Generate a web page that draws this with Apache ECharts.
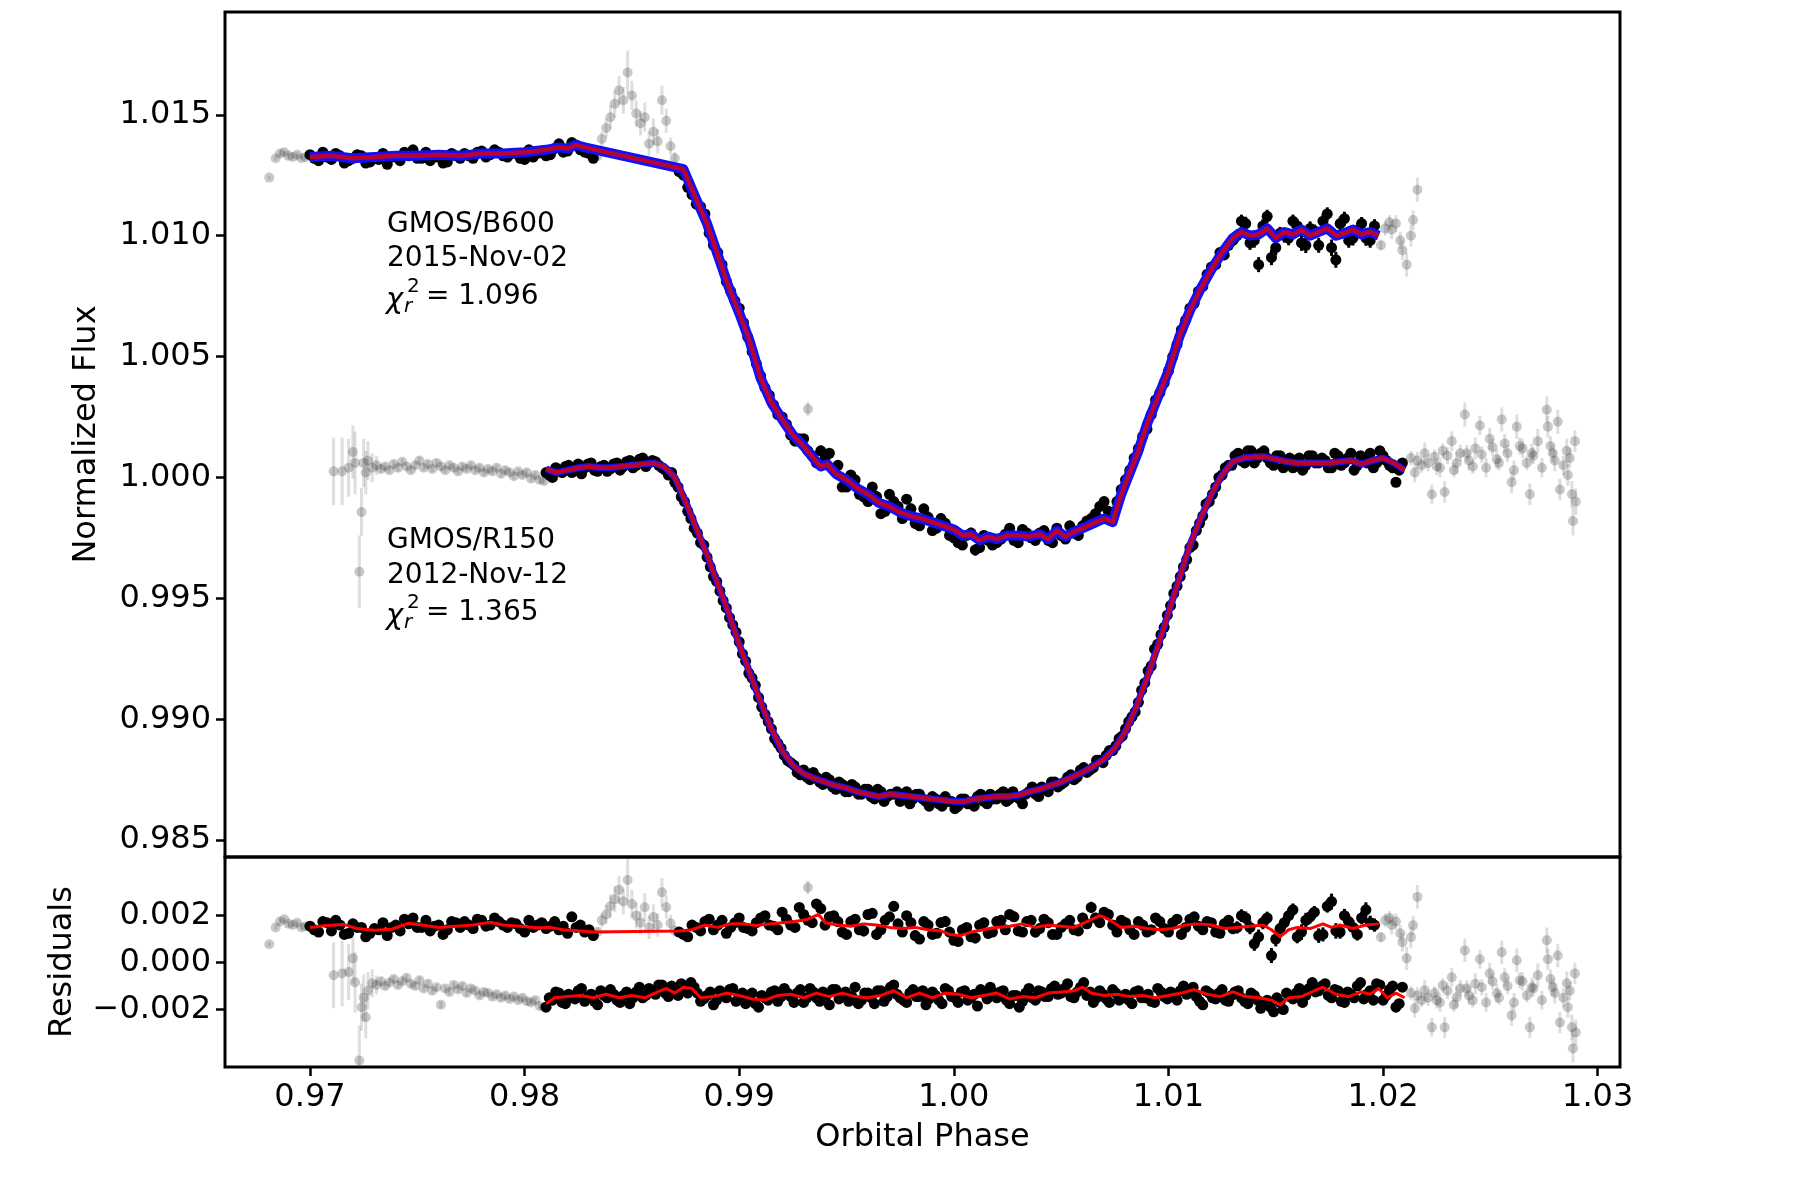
<!DOCTYPE html>
<html><head><meta charset="utf-8">
<script src="https://cdn.jsdelivr.net/npm/echarts@6/dist/echarts.min.js"></script>
<style>html,body{margin:0;padding:0;background:#fff}#c{width:1800px;height:1200px}</style>
</head><body><div id="c"></div><script>
// ---------------- tick values ----------------
const xTicks = [0.97, 0.98, 0.99, 1.00, 1.01, 1.02, 1.03];
const fluxTicks = [0.985, 0.990, 0.995, 1.000, 1.005, 1.010, 1.015];
const residTicks = [-0.002, 0.000, 0.002];

// ---------------- GMOS/B600 (2015-Nov-02) fitted points, block A ----------------
const b600Phase = [
0.9700,0.9704,0.9708,0.9712,0.9716,0.9720,0.9724,0.9728,0.9732,0.9736,
0.9740,0.9744,0.9748,0.9752,0.9756,0.9760,0.9764,0.9768,0.9772,0.9776,
0.9780,0.9784,0.9788,0.9792,0.9796,0.9800,0.9804,0.9808,0.9812,0.9816,
0.9820,0.9824,0.9828,0.9832,
0.9872,0.9876,0.9880,0.9884,0.9888,0.9892,0.9896,0.9900,0.9904,0.9908,
0.9912,0.9916,0.9920,0.9924,0.9928,0.9932,0.9936,0.9940,0.9944,0.9948,
0.9952,0.9956,0.9960,0.9964,0.9968,0.9972,0.9976,0.9980,0.9984,0.9988,
0.9992,0.9996,1.0000,1.0004,1.0008,1.0012,1.0016,1.0020,1.0024,1.0028,
1.0032,1.0036,1.0040,1.0044,1.0048,1.0052,1.0056,1.0060,1.0064,1.0068,
1.0072,1.0076,1.0080,1.0084,1.0088,1.0092,1.0096,1.0100,1.0104,1.0108,
1.0112,1.0116,1.0120,1.0124,1.0128,1.0132,1.0136,1.0140,1.0144,1.0148,
1.0152,1.0156,1.0160,1.0164,1.0168,1.0172,1.0176,1.0180,1.0184,1.0188,
1.0192,1.0196];
const b600Flux = [
1.01335,1.01310,1.01325,1.01340,1.01300,1.01320,1.01330,1.01305,1.01315,1.01295,
1.01325,1.01345,1.01355,1.01320,1.01310,1.01325,1.01305,1.01330,1.01340,1.01320,
1.01350,1.01335,1.01345,1.01325,1.01340,1.01315,1.01325,1.01345,1.01335,1.01380,
1.01350,1.01375,1.01345,1.01320,
1.01265,1.01200,1.01130,1.01090,1.00960,1.00880,1.00770,1.00700,1.00580,1.00470,
1.00370,1.00300,1.00250,1.00175,1.00160,1.00110,1.00060,1.00080,1.00030,0.99960,
1.00010,0.99930,0.99900,0.99920,0.99860,0.99900,0.99830,0.99870,0.99800,0.99835,
0.99790,0.99810,0.99750,0.99720,0.99770,0.99710,0.99740,0.99730,0.99765,0.99740,
0.99785,0.99750,0.99770,0.99740,0.99790,0.99745,0.99770,0.99800,0.99830,0.99880,
0.99860,0.99900,0.99990,1.00080,1.00170,1.00260,1.00350,1.00440,1.00550,1.00650,
1.00720,1.00790,1.00870,1.00930,1.00960,1.01000,1.01050,1.00980,1.01040,1.00910,
1.01010,1.00990,1.01040,1.00960,1.01020,1.01060,1.00950,1.01050,1.00980,1.01020,
1.00990,1.01040];
const b600Err = [
0.00012,0.00013,0.00012,0.00012,0.00013,0.00012,0.00012,0.00013,0.00012,0.00012,
0.00013,0.00012,0.00012,0.00013,0.00012,0.00012,0.00013,0.00012,0.00012,0.00013,
0.00012,0.00012,0.00013,0.00012,0.00012,0.00013,0.00012,0.00014,0.00013,0.00015,
0.00014,0.00015,0.00014,0.00015,
0.00012,0.00012,0.00013,0.00012,0.00013,0.00012,0.00013,0.00012,0.00013,0.00012,
0.00013,0.00012,0.00014,0.00013,0.00014,0.00015,0.00020,0.00022,0.00020,0.00018,
0.00020,0.00022,0.00020,0.00024,0.00020,0.00022,0.00018,0.00022,0.00020,0.00024,
0.00020,0.00022,0.00020,0.00018,0.00022,0.00020,0.00024,0.00020,0.00018,0.00022,
0.00020,0.00018,0.00020,0.00022,0.00020,0.00018,0.00020,0.00022,0.00024,0.00022,
0.00020,0.00020,0.00018,0.00016,0.00018,0.00016,0.00018,0.00016,0.00018,0.00016,
0.00018,0.00020,0.00018,0.00020,0.00022,0.00026,0.00028,0.00030,0.00028,0.00032,
0.00026,0.00030,0.00028,0.00032,0.00026,0.00030,0.00034,0.00028,0.00030,0.00026,
0.00032,0.00028];
const b600Resid = [
0.00155,0.00130,0.00170,0.00180,0.00120,0.00165,0.00150,0.00125,0.00140,0.00115,
0.00160,0.00185,0.00190,0.00150,0.00135,0.00160,0.00140,0.00170,0.00175,0.00145,
0.00180,0.00160,0.00175,0.00150,0.00165,0.00130,0.00150,0.00170,0.00155,0.00140,
0.00125,0.00150,0.00130,0.00115,
0.00130,0.00110,0.00150,0.00175,0.00140,0.00180,0.00150,0.00190,0.00145,0.00170,
0.00200,0.00155,0.00215,0.00160,0.00235,0.00180,0.00250,0.00160,0.00200,0.00130,
0.00175,0.00140,0.00205,0.00120,0.00180,0.00240,0.00130,0.00170,0.00100,0.00160,
0.00125,0.00175,0.00095,0.00140,0.00110,0.00160,0.00125,0.00175,0.00140,0.00195,
0.00130,0.00180,0.00145,0.00170,0.00120,0.00165,0.00140,0.00190,0.00235,0.00170,
0.00205,0.00130,0.00170,0.00120,0.00160,0.00140,0.00175,0.00130,0.00185,0.00150,
0.00195,0.00140,0.00170,0.00125,0.00180,0.00150,0.00190,0.00080,0.00170,0.00030,
0.00145,0.00200,0.00110,0.00180,0.00215,0.00120,0.00260,0.00130,0.00175,0.00120,
0.00225,0.00160];

// ---------------- GMOS/B600 fitted points, block B (interleaved exposures) ----------------
const b600PhaseB = [
0.9702,0.9706,0.9710,0.9714,0.9718,0.9722,0.9726,0.9730,0.9734,0.9738,
0.9742,0.9746,0.9750,0.9754,0.9758,0.9762,0.9766,0.9770,0.9774,0.9778,
0.9782,0.9786,0.9790,0.9794,0.9798,0.9802,0.9806,0.9810,0.9814,0.9818,
0.9822,0.9826,0.9830,
0.9874,0.9878,0.9882,0.9886,0.9890,0.9894,0.9898,0.9902,0.9906,0.9910,
0.9914,0.9918,0.9922,0.9926,0.9930,0.9934,0.9938,0.9942,0.9946,0.9950,
0.9954,0.9958,0.9962,0.9966,0.9970,0.9974,0.9978,0.9982,0.9986,0.9990,
0.9994,0.9998,1.0002,1.0006,1.0010,1.0014,1.0018,1.0022,1.0026,1.0030,
1.0034,1.0038,1.0042,1.0046,1.0050,1.0054,1.0058,1.0062,1.0066,1.0070,
1.0074,1.0078,1.0082,1.0086,1.0090,1.0094,1.0098,1.0102,1.0106,1.0110,
1.0114,1.0118,1.0122,1.0126,1.0130,1.0134,1.0138,1.0142,1.0146,1.0150,
1.0154,1.0158,1.0162,1.0166,1.0170,1.0174,1.0178,1.0182,1.0186,1.0190,
1.0194];
const b600FluxB = [
1.01320,1.01345,1.01315,1.01330,1.01310,1.01335,1.01300,1.01320,1.01340,1.01325,
1.01310,1.01330,1.01320,1.01345,1.01325,1.01300,1.01340,1.01320,1.01330,1.01345,
1.01325,1.01355,1.01330,1.01340,1.01320,1.01355,1.01340,1.01330,1.01360,1.01345,
1.01385,1.01355,1.01340,
1.01250,1.01170,1.01120,1.01010,1.00930,1.00810,1.00730,1.00640,1.00520,1.00420,
1.00340,1.00260,1.00220,1.00150,1.00160,1.00090,1.00110,1.00100,1.00050,0.99960,
0.99990,0.99920,0.99960,0.99850,0.99930,0.99880,0.99910,0.99810,0.99870,0.99780,
0.99830,0.99760,0.99730,0.99760,0.99700,0.99760,0.99720,0.99745,0.99790,0.99730,
0.99770,0.99740,0.99780,0.99730,0.99760,0.99800,0.99760,0.99820,0.99850,0.99900,
0.99840,0.99950,1.00030,1.00120,1.00200,1.00320,1.00390,1.00500,1.00610,1.00700,
1.00770,1.00840,1.00880,1.00920,1.00980,1.01060,1.00970,1.00880,1.01080,1.00950,
1.01000,1.01060,1.00970,1.01030,1.00960,1.01090,1.00900,1.01070,1.00990,1.01050,
1.00980];
const b600ErrB = [
0.00013,0.00012,0.00012,0.00013,0.00012,0.00012,0.00013,0.00012,0.00012,0.00013,
0.00012,0.00012,0.00013,0.00012,0.00012,0.00013,0.00012,0.00012,0.00013,0.00012,
0.00012,0.00013,0.00012,0.00012,0.00013,0.00012,0.00013,0.00014,0.00013,0.00015,
0.00014,0.00015,0.00014,
0.00012,0.00013,0.00012,0.00013,0.00012,0.00013,0.00012,0.00013,0.00012,0.00013,
0.00012,0.00013,0.00014,0.00013,0.00015,0.00016,0.00021,0.00020,0.00022,0.00019,
0.00021,0.00023,0.00020,0.00022,0.00019,0.00021,0.00020,0.00023,0.00021,0.00019,
0.00022,0.00020,0.00021,0.00019,0.00023,0.00021,0.00020,0.00022,0.00019,0.00021,
0.00020,0.00022,0.00019,0.00021,0.00023,0.00020,0.00021,0.00019,0.00022,0.00020,
0.00021,0.00019,0.00017,0.00018,0.00016,0.00017,0.00018,0.00016,0.00017,0.00018,
0.00017,0.00019,0.00018,0.00021,0.00024,0.00027,0.00029,0.00031,0.00027,0.00031,
0.00029,0.00027,0.00033,0.00029,0.00031,0.00027,0.00033,0.00029,0.00031,0.00027,
0.00030];
const b600ResidB = [
0.00140,0.00175,0.00135,0.00160,0.00125,0.00150,0.00110,0.00145,0.00170,0.00150,
0.00135,0.00165,0.00150,0.00180,0.00155,0.00120,0.00175,0.00150,0.00160,0.00185,
0.00155,0.00190,0.00160,0.00170,0.00145,0.00180,0.00160,0.00145,0.00175,0.00155,
0.00195,0.00160,0.00140,
0.00120,0.00160,0.00135,0.00185,0.00160,0.00125,0.00170,0.00150,0.00135,0.00190,
0.00160,0.00140,0.00185,0.00150,0.00205,0.00170,0.00230,0.00195,0.00175,0.00120,
0.00185,0.00135,0.00210,0.00140,0.00195,0.00165,0.00200,0.00115,0.00175,0.00120,
0.00170,0.00130,0.00090,0.00150,0.00105,0.00170,0.00130,0.00180,0.00205,0.00135,
0.00175,0.00130,0.00185,0.00120,0.00150,0.00180,0.00135,0.00165,0.00190,0.00215,
0.00160,0.00180,0.00140,0.00175,0.00130,0.00190,0.00145,0.00170,0.00120,0.00185,
0.00155,0.00175,0.00130,0.00165,0.00145,0.00200,0.00150,0.00110,0.00190,0.00100,
0.00170,0.00225,0.00130,0.00195,0.00115,0.00240,0.00135,0.00200,0.00150,0.00190,
0.00170];

// ---------------- GMOS/B600 excluded (grey) points ----------------
const b600GreyPhase = [
0.9681,0.9684,0.9686,0.9688,0.9690,0.9692,0.9694,0.9696,0.9698,
0.9834,0.9836,0.9838,0.9840,0.9842,0.9844,0.9846,0.9848,0.9850,0.9852,
0.9854,0.9856,0.9858,0.9860,0.9862,0.9864,0.9866,0.9868,0.9870,
0.9932,
1.0199,1.0201,1.0203,1.0204,1.0206,1.0208,1.0209,1.0211,1.0213,1.0214,1.0216];
const b600GreyFlux = [
1.01240,1.01320,1.01340,1.01345,1.01330,1.01325,1.01335,1.01320,1.01325,
1.01330,1.01400,1.01445,1.01490,1.01545,1.01600,1.01560,1.01675,1.01580,1.01505,
1.01465,1.01490,1.01380,1.01430,1.01390,1.01560,1.01475,1.01370,1.01320,
1.00283,
1.00960,1.01030,1.01055,1.01025,1.01050,1.00980,1.00940,1.00880,1.01000,1.01065,1.01190];
const b600GreyErr = [
0.00008,0.00010,0.00012,0.00010,0.00012,0.00010,0.00012,0.00010,0.00008,
0.00020,0.00030,0.00040,0.00050,0.00055,0.00060,0.00055,0.00090,0.00060,0.00055,
0.00050,0.00060,0.00050,0.00055,0.00050,0.00060,0.00050,0.00035,0.00025,
0.00030,
0.00020,0.00030,0.00030,0.00040,0.00035,0.00035,0.00040,0.00050,0.00045,0.00040,0.00050];
const b600GreyResid = [
0.00078,0.00150,0.00175,0.00185,0.00165,0.00160,0.00170,0.00150,0.00155,
0.00130,0.00180,0.00205,0.00240,0.00270,0.00310,0.00260,0.00352,0.00250,0.00200,
0.00170,0.00236,0.00150,0.00194,0.00160,0.00300,0.00236,0.00168,0.00135,
0.00320,
0.00108,0.00180,0.00190,0.00160,0.00175,0.00125,0.00087,0.00018,0.00108,0.00159,0.00280];

// ---------------- GMOS/B600 model and residual trend ----------------
const b600Model = [
[0.9700,1.01325],[0.9710,1.01330],[0.9720,1.01320],[0.9730,1.01325],[0.9740,1.01330],
[0.9750,1.01330],[0.9760,1.01335],[0.9770,1.01330],[0.9780,1.01340],[0.9790,1.01340],
[0.9800,1.01345],[0.9810,1.01355],[0.9816,1.01365],[0.9820,1.01360],[0.9824,1.01375],
[0.9828,1.01365],[0.9874,1.01275],[0.9880,1.01150],[0.9885,1.01050],[0.9890,1.00920],
[0.9895,1.00790],[0.9900,1.00680],[0.9905,1.00560],[0.9910,1.00410],[0.9915,1.00310],
[0.9920,1.00240],[0.9925,1.00175],[0.9930,1.00130],[0.9935,1.00075],[0.9938,1.00045],
[0.9941,1.00055],[0.9945,1.00015],[0.9950,0.99990],[0.9955,0.99955],[0.9960,0.99930],
[0.9965,0.99895],[0.9970,0.99880],[0.9975,0.99855],[0.9980,0.99840],[0.9985,0.99830],
[0.9990,0.99815],[0.9995,0.99800],[1.0000,0.99785],[1.0004,0.99760],[1.0008,0.99765],
[1.0012,0.99740],[1.0016,0.99755],[1.0020,0.99745],[1.0025,0.99760],[1.0030,0.99760],
[1.0035,0.99755],[1.0040,0.99765],[1.0044,0.99745],[1.0048,0.99780],[1.0052,0.99755],
[1.0056,0.99775],[1.0060,0.99790],[1.0065,0.99810],[1.0070,0.99830],[1.0074,0.99815],
[1.0078,0.99930],[1.0082,1.00020],[1.0086,1.00110],[1.0090,1.00220],[1.0095,1.00330],
[1.0100,1.00440],[1.0105,1.00580],[1.0110,1.00690],[1.0115,1.00780],[1.0120,1.00860],
[1.0125,1.00930],[1.0130,1.00990],[1.0134,1.01015],[1.0138,1.01000],[1.0142,1.01005],
[1.0146,1.01030],[1.0150,1.00990],[1.0154,1.01015],[1.0158,1.01005],[1.0162,1.01025],
[1.0166,1.01000],[1.0170,1.01015],[1.0174,1.01030],[1.0178,1.01000],[1.0182,1.01010],
[1.0186,1.01025],[1.0190,1.01005],[1.0194,1.01015],[1.0198,1.01000]];
const b600ResidTrend = [
[0.9700,0.00150],[0.9708,0.00158],[0.9716,0.00162],[0.9722,0.00145],[0.9730,0.00138],
[0.9738,0.00142],[0.9746,0.00168],[0.9752,0.00160],[0.9760,0.00150],[0.9768,0.00155],
[0.9776,0.00160],[0.9784,0.00172],[0.9790,0.00160],[0.9798,0.00155],[0.9806,0.00148],
[0.9812,0.00150],[0.9818,0.00140],[0.9826,0.00135],[0.9832,0.00130],[0.9872,0.00135],
[0.9878,0.00140],[0.9884,0.00160],[0.9890,0.00150],[0.9896,0.00165],[0.9902,0.00165],
[0.9908,0.00158],[0.9914,0.00165],[0.9920,0.00170],[0.9926,0.00175],[0.9932,0.00185],
[0.9937,0.00205],[0.9940,0.00170],[0.9946,0.00160],[0.9952,0.00155],[0.9958,0.00165],
[0.9964,0.00160],[0.9970,0.00150],[0.9976,0.00145],[0.9982,0.00150],[0.9988,0.00140],
[0.9994,0.00135],[0.9998,0.00120],[1.0003,0.00115],[1.0008,0.00130],[1.0014,0.00140],
[1.0020,0.00150],[1.0026,0.00155],[1.0032,0.00165],[1.0038,0.00150],[1.0044,0.00160],
[1.0050,0.00155],[1.0056,0.00150],[1.0062,0.00175],[1.0068,0.00200],[1.0072,0.00185],
[1.0078,0.00150],[1.0084,0.00155],[1.0090,0.00145],[1.0096,0.00140],[1.0102,0.00145],
[1.0108,0.00160],[1.0114,0.00165],[1.0120,0.00160],[1.0126,0.00145],[1.0132,0.00150],
[1.0138,0.00155],[1.0144,0.00160],[1.0148,0.00140],[1.0152,0.00110],[1.0156,0.00140],
[1.0160,0.00150],[1.0166,0.00145],[1.0172,0.00165],[1.0176,0.00150],[1.0180,0.00160],
[1.0186,0.00145],[1.0192,0.00160],[1.0198,0.00165]];

// ---------------- GMOS/R150 (2012-Nov-12) fitted points, block A ----------------
const r150Phase = [
0.9810,0.9813,0.9816,0.9819,0.9822,0.9825,0.9828,0.9831,0.9834,0.9837,
0.9840,0.9843,0.9846,0.9849,0.9852,0.9855,0.9858,0.9861,0.9864,0.9867,
0.9870,0.9873,0.9876,0.9879,0.9882,0.9885,0.9888,0.9891,0.9894,0.9897,
0.9900,0.9903,0.9906,0.9909,0.9912,0.9915,0.9918,0.9921,0.9924,0.9927,
0.9930,0.9933,0.9936,0.9939,0.9942,0.9945,0.9948,0.9951,0.9954,0.9957,
0.9960,0.9963,0.9966,0.9969,0.9972,0.9975,0.9978,0.9981,0.9984,0.9987,
0.9990,0.9993,0.9996,0.9999,1.0002,1.0005,1.0008,1.0011,1.0014,1.0017,
1.0020,1.0023,1.0026,1.0029,1.0032,1.0035,1.0038,1.0041,1.0044,1.0047,
1.0050,1.0053,1.0056,1.0059,1.0062,1.0065,1.0068,1.0071,1.0074,1.0077,
1.0080,1.0083,1.0086,1.0089,1.0092,1.0095,1.0098,1.0101,1.0104,1.0107,
1.0110,1.0113,1.0116,1.0119,1.0122,1.0125,1.0128,1.0131,1.0134,1.0137,
1.0140,1.0143,1.0146,1.0149,1.0152,1.0155,1.0158,1.0161,1.0164,1.0167,
1.0170,1.0173,1.0176,1.0179,1.0182,1.0185,1.0188,1.0191,1.0194,1.0197,
1.0200,1.0203,1.0206,1.0209];
const r150Flux = [
1.00020,1.00000,1.00030,1.00045,1.00020,1.00055,1.00040,1.00060,1.00025,1.00050,
1.00035,1.00060,1.00045,1.00070,1.00050,1.00080,1.00060,1.00065,1.00040,1.00010,
0.99980,0.99920,0.99860,0.99790,0.99730,0.99670,0.99590,0.99530,0.99460,0.99390,
0.99320,0.99240,0.99170,0.99090,0.99020,0.98960,0.98900,0.98850,0.98820,0.98780,
0.98790,0.98750,0.98760,0.98730,0.98750,0.98710,0.98730,0.98700,0.98720,0.98690,
0.98710,0.98670,0.98700,0.98680,0.98690,0.98660,0.98700,0.98670,0.98690,0.98660,
0.98680,0.98650,0.98680,0.98660,0.98640,0.98670,0.98650,0.98680,0.98660,0.98690,
0.98670,0.98700,0.98670,0.98680,0.98650,0.98700,0.98690,0.98720,0.98700,0.98740,
0.98730,0.98760,0.98750,0.98790,0.98780,0.98800,0.98830,0.98850,0.98870,0.98920,
0.98960,0.99010,0.99070,0.99150,0.99220,0.99310,0.99380,0.99470,0.99550,0.99630,
0.99710,0.99780,0.99840,0.99900,0.99960,1.00010,1.00050,1.00090,1.00070,1.00110,
1.00060,1.00100,1.00080,1.00050,1.00090,1.00060,1.00040,1.00080,1.00050,1.00090,
1.00060,1.00070,1.00040,1.00090,1.00060,1.00100,1.00050,1.00080,1.00100,1.00060,
1.00090,1.00050,0.99980,1.00060];
const r150Err = [
0.00014,0.00013,0.00014,0.00015,0.00013,0.00014,0.00013,0.00015,0.00014,0.00013,
0.00014,0.00013,0.00015,0.00014,0.00013,0.00014,0.00015,0.00013,0.00014,0.00013,
0.00013,0.00014,0.00013,0.00014,0.00013,0.00014,0.00013,0.00014,0.00013,0.00014,
0.00013,0.00014,0.00013,0.00014,0.00013,0.00014,0.00013,0.00014,0.00013,0.00014,
0.00015,0.00014,0.00016,0.00014,0.00015,0.00016,0.00014,0.00015,0.00016,0.00014,
0.00015,0.00016,0.00014,0.00015,0.00016,0.00014,0.00015,0.00016,0.00014,0.00015,
0.00016,0.00014,0.00015,0.00016,0.00014,0.00015,0.00016,0.00014,0.00015,0.00016,
0.00014,0.00015,0.00016,0.00014,0.00015,0.00016,0.00014,0.00015,0.00016,0.00014,
0.00015,0.00014,0.00015,0.00014,0.00015,0.00014,0.00015,0.00014,0.00015,0.00014,
0.00014,0.00013,0.00014,0.00013,0.00014,0.00013,0.00014,0.00013,0.00014,0.00013,
0.00014,0.00013,0.00014,0.00013,0.00014,0.00015,0.00016,0.00015,0.00016,0.00015,
0.00016,0.00015,0.00016,0.00015,0.00016,0.00015,0.00016,0.00015,0.00016,0.00015,
0.00016,0.00015,0.00016,0.00015,0.00016,0.00017,0.00016,0.00017,0.00016,0.00017,
0.00018,0.00017,0.00019,0.00018];
const r150Resid = [
-0.00190,-0.00160,-0.00130,-0.00175,-0.00150,-0.00120,-0.00165,-0.00135,-0.00180,-0.00140,
-0.00115,-0.00160,-0.00140,-0.00175,-0.00125,-0.00150,-0.00110,-0.00135,-0.00095,-0.00145,
-0.00120,-0.00090,-0.00130,-0.00105,-0.00165,-0.00140,-0.00180,-0.00120,-0.00150,-0.00110,
-0.00145,-0.00175,-0.00130,-0.00190,-0.00150,-0.00125,-0.00165,-0.00110,-0.00145,-0.00130,
-0.00170,-0.00110,-0.00150,-0.00125,-0.00180,-0.00115,-0.00140,-0.00165,-0.00105,-0.00160,
-0.00130,-0.00175,-0.00120,-0.00145,-0.00095,-0.00150,-0.00170,-0.00115,-0.00145,-0.00180,
-0.00125,-0.00160,-0.00110,-0.00145,-0.00170,-0.00120,-0.00150,-0.00185,-0.00130,-0.00105,
-0.00150,-0.00120,-0.00175,-0.00140,-0.00165,-0.00110,-0.00160,-0.00125,-0.00145,-0.00100,
-0.00130,-0.00090,-0.00150,-0.00105,-0.00140,-0.00170,-0.00120,-0.00155,-0.00115,-0.00160,
-0.00135,-0.00175,-0.00120,-0.00150,-0.00165,-0.00110,-0.00145,-0.00125,-0.00160,-0.00100,
-0.00120,-0.00145,-0.00180,-0.00130,-0.00155,-0.00115,-0.00165,-0.00125,-0.00150,-0.00175,
-0.00140,-0.00195,-0.00160,-0.00210,-0.00170,-0.00130,-0.00155,-0.00110,-0.00140,-0.00085,
-0.00120,-0.00090,-0.00150,-0.00120,-0.00170,-0.00135,-0.00100,-0.00155,-0.00120,-0.00090,
-0.00160,-0.00115,-0.00190,-0.00105];

// ---------------- GMOS/R150 fitted points, block B (interleaved exposures) ----------------
const r150PhaseB = [
0.98115,0.98145,0.98175,0.98205,0.98235,0.98265,0.98295,0.98325,0.98355,0.98385,
0.98415,0.98445,0.98475,0.98505,0.98535,0.98565,0.98595,0.98625,0.98655,0.98685,
0.98715,0.98745,0.98775,0.98805,0.98835,0.98865,0.98895,0.98925,0.98955,0.98985,
0.99015,0.99045,0.99075,0.99105,0.99135,0.99165,0.99195,0.99225,0.99255,0.99285,
0.99315,0.99345,0.99375,0.99405,0.99435,0.99465,0.99495,0.99525,0.99555,0.99585,
0.99615,0.99645,0.99675,0.99705,0.99735,0.99765,0.99795,0.99825,0.99855,0.99885,
0.99915,0.99945,0.99975,1.00005,1.00035,1.00065,1.00095,1.00125,1.00155,1.00185,
1.00215,1.00245,1.00275,1.00305,1.00335,1.00365,1.00395,1.00425,1.00455,1.00485,
1.00515,1.00545,1.00575,1.00605,1.00635,1.00665,1.00695,1.00725,1.00755,1.00785,
1.00815,1.00845,1.00875,1.00905,1.00935,1.00965,1.00995,1.01025,1.01055,1.01085,
1.01115,1.01145,1.01175,1.01205,1.01235,1.01265,1.01295,1.01325,1.01355,1.01385,
1.01415,1.01445,1.01475,1.01505,1.01535,1.01565,1.01595,1.01625,1.01655,1.01685,
1.01715,1.01745,1.01775,1.01805,1.01835,1.01865,1.01895,1.01925,1.01955,1.01985,
1.02015,1.02045,1.02075];
const r150FluxB = [
1.00010,1.00040,1.00020,1.00050,1.00035,1.00015,1.00055,1.00030,1.00045,1.00025,
1.00055,1.00030,1.00065,1.00040,1.00075,1.00045,1.00070,1.00050,1.00030,1.00020,
0.99960,0.99900,0.99830,0.99770,0.99720,0.99630,0.99570,0.99490,0.99420,0.99360,
0.99270,0.99190,0.99140,0.99050,0.98990,0.98920,0.98880,0.98830,0.98810,0.98770,
0.98760,0.98780,0.98740,0.98760,0.98720,0.98740,0.98700,0.98730,0.98690,0.98710,
0.98680,0.98710,0.98660,0.98690,0.98700,0.98670,0.98650,0.98690,0.98670,0.98640,
0.98670,0.98640,0.98660,0.98630,0.98670,0.98650,0.98640,0.98690,0.98650,0.98670,
0.98690,0.98660,0.98700,0.98670,0.98690,0.98720,0.98680,0.98710,0.98740,0.98720,
0.98740,0.98770,0.98760,0.98800,0.98790,0.98830,0.98820,0.98870,0.98890,0.98930,
0.98990,0.99030,0.99120,0.99200,0.99290,0.99350,0.99430,0.99520,0.99590,0.99660,
0.99720,0.99810,0.99890,0.99930,1.00000,1.00040,1.00050,1.00100,1.00060,1.00110,
1.00080,1.00110,1.00060,1.00090,1.00040,1.00080,1.00070,1.00030,1.00090,1.00060,
1.00080,1.00040,1.00100,1.00050,1.00080,1.00030,1.00090,1.00060,1.00040,1.00110,
1.00070,1.00040,1.00030];
const r150ErrB = [
0.00013,0.00014,0.00013,0.00014,0.00013,0.00014,0.00013,0.00014,0.00013,0.00014,
0.00013,0.00014,0.00013,0.00014,0.00013,0.00014,0.00013,0.00014,0.00013,0.00014,
0.00013,0.00014,0.00013,0.00014,0.00013,0.00014,0.00013,0.00014,0.00013,0.00014,
0.00013,0.00014,0.00013,0.00014,0.00013,0.00014,0.00013,0.00014,0.00013,0.00014,
0.00015,0.00016,0.00015,0.00016,0.00015,0.00016,0.00015,0.00016,0.00015,0.00016,
0.00015,0.00016,0.00015,0.00016,0.00015,0.00016,0.00015,0.00016,0.00015,0.00016,
0.00015,0.00016,0.00015,0.00016,0.00015,0.00016,0.00015,0.00016,0.00015,0.00016,
0.00015,0.00016,0.00015,0.00016,0.00015,0.00016,0.00015,0.00016,0.00015,0.00016,
0.00015,0.00016,0.00015,0.00016,0.00015,0.00016,0.00015,0.00016,0.00015,0.00016,
0.00013,0.00014,0.00013,0.00014,0.00013,0.00014,0.00013,0.00014,0.00013,0.00014,
0.00013,0.00014,0.00013,0.00014,0.00013,0.00014,0.00013,0.00014,0.00013,0.00014,
0.00016,0.00017,0.00016,0.00017,0.00016,0.00017,0.00016,0.00017,0.00016,0.00017,
0.00016,0.00017,0.00016,0.00017,0.00016,0.00017,0.00016,0.00017,0.00016,0.00017,
0.00018,0.00017,0.00018];
const r150ResidB = [
-0.00150,-0.00125,-0.00170,-0.00135,-0.00155,-0.00110,-0.00145,-0.00165,-0.00120,-0.00150,
-0.00135,-0.00170,-0.00125,-0.00150,-0.00105,-0.00140,-0.00120,-0.00095,-0.00130,-0.00100,
-0.00140,-0.00115,-0.00085,-0.00130,-0.00155,-0.00125,-0.00160,-0.00140,-0.00115,-0.00165,
-0.00130,-0.00155,-0.00175,-0.00140,-0.00160,-0.00120,-0.00145,-0.00130,-0.00170,-0.00115,
-0.00150,-0.00125,-0.00165,-0.00140,-0.00115,-0.00155,-0.00125,-0.00145,-0.00175,-0.00130,
-0.00150,-0.00120,-0.00165,-0.00105,-0.00135,-0.00160,-0.00130,-0.00145,-0.00120,-0.00155,
-0.00140,-0.00175,-0.00120,-0.00150,-0.00125,-0.00160,-0.00135,-0.00115,-0.00155,-0.00130,
-0.00125,-0.00160,-0.00140,-0.00190,-0.00130,-0.00150,-0.00120,-0.00145,-0.00110,-0.00135,
-0.00110,-0.00145,-0.00125,-0.00085,-0.00125,-0.00150,-0.00135,-0.00170,-0.00130,-0.00150,
-0.00160,-0.00125,-0.00150,-0.00135,-0.00170,-0.00125,-0.00155,-0.00140,-0.00120,-0.00135,
-0.00105,-0.00165,-0.00120,-0.00150,-0.00130,-0.00160,-0.00140,-0.00120,-0.00165,-0.00130,
-0.00160,-0.00175,-0.00190,-0.00150,-0.00200,-0.00145,-0.00130,-0.00170,-0.00110,-0.00125,
-0.00100,-0.00140,-0.00115,-0.00165,-0.00125,-0.00150,-0.00085,-0.00135,-0.00160,-0.00095,
-0.00140,-0.00100,-0.00175];

// ---------------- GMOS/R150 excluded (grey) points ----------------
const r150GreyPhase = [
0.9711,0.9715,0.9718,0.9720,0.9721,0.9723,0.9724,0.9725,0.9726,0.9727,
0.9729,0.9731,0.9733,0.9735,0.9737,0.9739,0.9741,0.9743,0.9745,0.9747,
0.9749,0.9751,0.9753,0.9755,0.9757,0.9759,0.9761,0.9763,0.9765,0.9767,
0.9769,0.9771,0.9773,0.9775,0.9777,0.9779,0.9781,0.9783,0.9785,0.9787,
0.9789,0.9791,0.9793,0.9795,0.9797,0.9799,0.9801,0.9803,0.9805,0.9807,
0.9809,
1.02130,1.02148,1.02160,1.02180,1.02194,1.02210,1.02227,1.02240,1.02250,1.02265,
1.02278,1.02287,1.02300,1.02320,1.02330,1.02343,1.02360,1.02381,1.02390,1.02400,
1.02418,1.02430,1.02451,1.02460,1.02480,1.02497,1.02510,1.02530,1.02540,1.02553,
1.02567,1.02580,1.02599,1.02610,1.02623,1.02637,1.02650,1.02670,1.02684,1.02693,
1.02700,1.02721,1.02740,1.02763,1.02768,1.02780,1.02791,1.02800,1.02814,1.02824,
1.02840,1.02856,1.02861,1.02870,1.02880,1.02885,1.02894,1.02898];
const r150GreyFlux = [
1.00025,1.00025,1.00040,1.00105,1.00060,0.99610,0.99857,1.00060,1.00020,1.00070,
1.00040,1.00050,1.00035,1.00045,1.00030,1.00055,1.00040,1.00065,1.00045,1.00030,
1.00050,1.00070,1.00040,1.00055,1.00035,1.00060,1.00045,1.00030,1.00050,1.00040,
1.00025,1.00045,1.00035,1.00050,1.00030,1.00040,1.00020,1.00035,1.00025,1.00040,
1.00015,1.00030,1.00020,1.00005,1.00025,1.00010,1.00020,0.99995,1.00010,0.99990,
0.99985,
1.00080,1.00020,1.00070,1.00050,1.00100,1.00060,0.99930,1.00085,1.00045,1.00040,
1.00110,0.99940,1.00090,1.00150,1.00030,1.00060,1.00100,1.00260,1.00100,1.00070,
1.00045,1.00120,1.00215,1.00095,1.00040,1.00160,1.00125,1.00075,1.00060,1.00240,
1.00140,1.00100,0.99980,1.00030,1.00210,1.00130,1.00120,1.00060,0.99930,1.00100,
1.00090,1.00150,1.00040,1.00280,1.00210,1.00130,1.00100,1.00070,1.00230,0.99950,
1.00050,1.00110,1.00010,1.00080,0.99930,0.99820,1.00150,0.99900];
const r150GreyErr = [
0.00140,0.00140,0.00120,0.00110,0.00130,0.00150,0.00100,0.00100,0.00090,0.00080,
0.00060,0.00040,0.00015,0.00014,0.00013,0.00014,0.00015,0.00013,0.00014,0.00013,
0.00014,0.00015,0.00013,0.00014,0.00013,0.00014,0.00015,0.00013,0.00014,0.00013,
0.00014,0.00015,0.00013,0.00014,0.00013,0.00014,0.00015,0.00013,0.00014,0.00013,
0.00014,0.00015,0.00013,0.00014,0.00013,0.00014,0.00015,0.00013,0.00014,0.00013,
0.00014,
0.00030,0.00040,0.00035,0.00030,0.00045,0.00035,0.00040,0.00030,0.00035,0.00040,
0.00030,0.00045,0.00035,0.00040,0.00030,0.00045,0.00035,0.00050,0.00035,0.00040,
0.00030,0.00045,0.00040,0.00035,0.00040,0.00045,0.00035,0.00040,0.00030,0.00050,
0.00040,0.00035,0.00045,0.00040,0.00050,0.00035,0.00040,0.00030,0.00045,0.00040,
0.00035,0.00050,0.00040,0.00055,0.00045,0.00040,0.00035,0.00045,0.00050,0.00045,
0.00040,0.00050,0.00045,0.00040,0.00055,0.00060,0.00045,0.00055];
const r150GreyResid = [
-0.00054,-0.00046,-0.00040,0.00018,-0.00084,-0.00417,-0.00190,-0.00150,-0.00233,-0.00120,
-0.00088,-0.00095,-0.00080,-0.00100,-0.00085,-0.00070,-0.00095,-0.00080,-0.00065,-0.00090,
-0.00100,-0.00075,-0.00110,-0.00090,-0.00120,-0.00105,-0.00180,-0.00110,-0.00125,-0.00095,
-0.00115,-0.00100,-0.00130,-0.00110,-0.00120,-0.00140,-0.00125,-0.00130,-0.00145,-0.00135,
-0.00150,-0.00140,-0.00155,-0.00145,-0.00160,-0.00150,-0.00165,-0.00170,-0.00160,-0.00185,
-0.00190,
-0.00130,-0.00195,-0.00140,-0.00160,-0.00118,-0.00150,-0.00276,-0.00130,-0.00161,-0.00170,
-0.00097,-0.00276,-0.00120,-0.00063,-0.00180,-0.00148,-0.00110,0.00052,-0.00110,-0.00140,
-0.00161,-0.00090,0.00014,-0.00105,-0.00170,-0.00046,-0.00080,-0.00131,-0.00150,0.00044,
-0.00063,-0.00100,-0.00225,-0.00170,0.00010,-0.00075,-0.00080,-0.00140,-0.00276,-0.00105,
-0.00110,-0.00054,-0.00160,0.00095,0.00014,-0.00070,-0.00105,-0.00130,0.00030,-0.00255,
-0.00150,-0.00088,-0.00190,-0.00120,-0.00276,-0.00366,-0.00046,-0.00298];

// ---------------- GMOS/R150 model and residual trend ----------------
const r150Model = [
[0.9810,1.00035],[0.9815,1.00020],[0.9820,1.00030],[0.9825,1.00040],[0.9830,1.00045],
[0.9835,1.00040],[0.9840,1.00040],[0.9845,1.00045],[0.9850,1.00050],[0.9855,1.00055],
[0.9860,1.00060],[0.9865,1.00045],[0.9870,1.00000],[0.9875,0.99900],[0.9880,0.99790],
[0.9885,0.99680],[0.9890,0.99560],[0.9895,0.99440],[0.9900,0.99310],[0.9905,0.99190],
[0.9910,0.99070],[0.9915,0.98960],[0.9920,0.98870],[0.9925,0.98810],[0.9930,0.98775],
[0.9935,0.98755],[0.9940,0.98740],[0.9945,0.98725],[0.9950,0.98715],[0.9955,0.98700],
[0.9960,0.98690],[0.9965,0.98680],[0.9970,0.98690],[0.9975,0.98685],[0.9980,0.98680],
[0.9985,0.98675],[0.9990,0.98670],[0.9995,0.98665],[1.0000,0.98660],[1.0005,0.98660],
[1.0010,0.98670],[1.0015,0.98675],[1.0020,0.98680],[1.0025,0.98680],[1.0030,0.98685],
[1.0035,0.98700],[1.0040,0.98710],[1.0045,0.98725],[1.0050,0.98740],[1.0055,0.98760],
[1.0060,0.98780],[1.0065,0.98805],[1.0070,0.98835],[1.0075,0.98880],[1.0080,0.98950],
[1.0085,0.99050],[1.0090,0.99170],[1.0095,0.99300],[1.0100,0.99440],[1.0105,0.99580],
[1.0110,0.99720],[1.0115,0.99830],[1.0120,0.99930],[1.0125,1.00010],[1.0130,1.00065],
[1.0135,1.00080],[1.0140,1.00085],[1.0145,1.00085],[1.0150,1.00075],[1.0155,1.00065],
[1.0160,1.00060],[1.0165,1.00060],[1.0170,1.00060],[1.0175,1.00060],[1.0180,1.00065],
[1.0185,1.00070],[1.0190,1.00055],[1.0195,1.00070],[1.0200,1.00080],[1.0205,1.00060],
[1.0210,1.00030]];
const r150ResidTrend = [
[0.9810,-0.00175],[0.9814,-0.00150],[0.9820,-0.00145],[0.9826,-0.00140],[0.9832,-0.00150],
[0.9838,-0.00135],[0.9844,-0.00150],[0.9850,-0.00140],[0.9856,-0.00150],[0.9862,-0.00125],
[0.9866,-0.00110],[0.9870,-0.00130],[0.9874,-0.00105],[0.9878,-0.00110],[0.9882,-0.00150],
[0.9888,-0.00145],[0.9894,-0.00130],[0.9900,-0.00140],[0.9906,-0.00155],[0.9912,-0.00160],
[0.9918,-0.00140],[0.9924,-0.00135],[0.9930,-0.00150],[0.9936,-0.00130],[0.9942,-0.00145],
[0.9948,-0.00130],[0.9954,-0.00145],[0.9960,-0.00150],[0.9966,-0.00140],[0.9972,-0.00120],
[0.9978,-0.00150],[0.9984,-0.00130],[0.9990,-0.00150],[0.9996,-0.00130],[1.0002,-0.00135],
[1.0008,-0.00150],[1.0014,-0.00140],[1.0020,-0.00130],[1.0026,-0.00155],[1.0032,-0.00145],
[1.0038,-0.00150],[1.0044,-0.00130],[1.0050,-0.00125],[1.0056,-0.00120],[1.0060,-0.00105],
[1.0064,-0.00130],[1.0070,-0.00140],[1.0076,-0.00135],[1.0082,-0.00145],[1.0088,-0.00140],
[1.0094,-0.00150],[1.0100,-0.00140],[1.0106,-0.00130],[1.0112,-0.00115],[1.0118,-0.00135],
[1.0124,-0.00145],[1.0130,-0.00125],[1.0136,-0.00145],[1.0142,-0.00150],[1.0148,-0.00160],
[1.0152,-0.00180],[1.0156,-0.00150],[1.0162,-0.00145],[1.0168,-0.00120],[1.0172,-0.00105],
[1.0178,-0.00135],[1.0184,-0.00145],[1.0190,-0.00125],[1.0194,-0.00135],[1.0198,-0.00110],
[1.0202,-0.00150],[1.0206,-0.00130],[1.0210,-0.00150]];

// ---------------- build chart ----------------
const FONT = 'DejaVu Sans';
const rows = (p, v, e) => p.map((x, i) => [x, v[i], e[i]]);

function errBars(data, xi, yi, color, width, z) {
  return {
    type: 'custom', xAxisIndex: xi, yAxisIndex: yi, data: data, z: z, clip: true, silent: true,
    encode: { x: 0, y: 1 },
    renderItem: function (params, api) {
      const x = api.value(0), y = api.value(1), e = api.value(2);
      const a = api.coord([x, y - e]), b = api.coord([x, y + e]);
      return { type: 'line', shape: { x1: a[0], y1: a[1], x2: b[0], y2: b[1] },
               style: { stroke: color, lineWidth: width } };
    }
  };
}
function dots(data, xi, yi, color, size, z) {
  return { type: 'scatter', xAxisIndex: xi, yAxisIndex: yi, data: data.map(d => [d[0], d[1]]),
           symbol: 'circle', symbolSize: size, itemStyle: { color: color, opacity: 1 }, z: z, silent: true };
}
function line(data, xi, yi, color, width, z) {
  return { type: 'line', xAxisIndex: xi, yAxisIndex: yi, data: data, showSymbol: false, symbol: 'none',
           lineStyle: { color: color, width: width, join: 'round' }, z: z, silent: true };
}

const GREY_DOT = 'rgba(60,60,60,0.28)';
const GREY_BAR = 'rgba(90,90,90,0.2)';

const b600Rows = rows(b600Phase, b600Flux, b600Err).concat(rows(b600PhaseB, b600FluxB, b600ErrB));
const b600ResRows = rows(b600Phase, b600Resid, b600Err).concat(rows(b600PhaseB, b600ResidB, b600ErrB));
const b600GreyRows = rows(b600GreyPhase, b600GreyFlux, b600GreyErr);
const b600GreyResRows = rows(b600GreyPhase, b600GreyResid, b600GreyErr);
const r150Rows = rows(r150Phase, r150Flux, r150Err).concat(rows(r150PhaseB, r150FluxB, r150ErrB));
const r150ResRows = rows(r150Phase, r150Resid, r150Err).concat(rows(r150PhaseB, r150ResidB, r150ErrB));
const r150GreyRows = rows(r150GreyPhase, r150GreyFlux, r150GreyErr);
const r150GreyResRows = rows(r150GreyPhase, r150GreyResid, r150GreyErr);

const axisTickStyle = { show: true, inside: false, length: 9, lineStyle: { color: '#000', width: 2.5 } };
const labelStyle = { color: '#000', fontSize: 32, fontFamily: FONT };
const fmtSigned = (v, d) => (v < -1e-12 ? '\u2212' + Math.abs(v).toFixed(d) : Math.abs(v).toFixed(d));

const chart = echarts.init(document.getElementById('c'), null, { renderer: 'canvas' });
chart.setOption({
  animation: false,
  backgroundColor: '#fff',
  textStyle: { fontFamily: FONT },
  grid: [
    { left: 225, top: 12, width: 1395, height: 845, show: true, borderColor: '#000', borderWidth: 3, backgroundColor: 'transparent', containLabel: false },
    { left: 225, top: 857, width: 1395, height: 210, show: true, borderColor: '#000', borderWidth: 3, backgroundColor: 'transparent', containLabel: false }
  ],
  xAxis: [
    { type: 'value', gridIndex: 0, min: 0.96604, max: 1.03104, axisLine: { show: false, onZero: false }, axisTick: { show: false },
      axisLabel: { show: false }, splitLine: { show: false } },
    { type: 'value', gridIndex: 1, min: 0.96604, max: 1.03104, position: 'bottom', axisLine: { show: false, onZero: false },
      axisTick: Object.assign({ customValues: xTicks }, axisTickStyle),
      axisLabel: Object.assign({ customValues: xTicks, margin: 15, formatter: v => v.toFixed(2) }, labelStyle),
      splitLine: { show: false },
      name: 'Orbital Phase', nameLocation: 'middle', nameGap: 55,
      nameTextStyle: { color: '#000', fontSize: 32, fontFamily: FONT } }
  ],
  yAxis: [
    { type: 'value', gridIndex: 0, min: 0.98430, max: 1.01925, axisLine: { show: false, onZero: false },
      axisTick: Object.assign({ customValues: fluxTicks }, axisTickStyle),
      axisLabel: Object.assign({ customValues: fluxTicks, margin: 14, formatter: v => v.toFixed(3) }, labelStyle),
      splitLine: { show: false },
      name: 'Normalized Flux', nameLocation: 'middle', nameGap: 122,
      nameTextStyle: { color: '#000', fontSize: 32, fontFamily: FONT } },
    { type: 'value', gridIndex: 1, min: -0.00445, max: 0.00450, axisLine: { show: false, onZero: false },
      axisTick: Object.assign({ customValues: residTicks }, axisTickStyle),
      axisLabel: Object.assign({ customValues: residTicks, margin: 14, formatter: v => fmtSigned(v, 3) }, labelStyle),
      splitLine: { show: false },
      name: 'Residuals', nameLocation: 'middle', nameGap: 146,
      nameTextStyle: { color: '#000', fontSize: 32, fontFamily: FONT } }
  ],
  series: [
    // top panel: grey (excluded) points
    errBars(b600GreyRows, 0, 0, GREY_BAR, 3, 1),
    errBars(r150GreyRows, 0, 0, GREY_BAR, 3, 1),
    dots(b600GreyRows, 0, 0, GREY_DOT, 10, 2),
    dots(r150GreyRows, 0, 0, GREY_DOT, 10, 2),
    // top panel: fitted points
    errBars(b600Rows, 0, 0, '#000', 3, 3),
    errBars(r150Rows, 0, 0, '#000', 3, 3),
    dots(b600Rows, 0, 0, '#000', 11, 4),
    dots(r150Rows, 0, 0, '#000', 11, 4),
    // top panel: models
    line(b600Model, 0, 0, '#1010ff', 10, 5),
    line(r150Model, 0, 0, '#1010ff', 7, 5),
    line(b600Model, 0, 0, 'rgba(225,0,0,0.82)', 4.5, 6),
    line(r150Model, 0, 0, 'rgba(225,0,0,0.82)', 4.5, 6),
    // bottom panel
    errBars(b600GreyResRows, 1, 1, GREY_BAR, 3, 1),
    errBars(r150GreyResRows, 1, 1, GREY_BAR, 3, 1),
    dots(b600GreyResRows, 1, 1, GREY_DOT, 10, 2),
    dots(r150GreyResRows, 1, 1, GREY_DOT, 10, 2),
    errBars(b600ResRows, 1, 1, '#000', 3, 3),
    errBars(r150ResRows, 1, 1, '#000', 3, 3),
    dots(b600ResRows, 1, 1, '#000', 11, 4),
    dots(r150ResRows, 1, 1, '#000', 11, 4),
    line(b600ResidTrend, 1, 1, '#ff0000', 3, 6),
    line(r150ResidTrend, 1, 1, '#ff0000', 3, 6)
  ],
  graphic: [
    { type: 'text', x: 387, y: 225, style: { text: 'GMOS/B600', fontSize: 28, fontFamily: FONT, fill: '#000', verticalAlign: 'middle' } },
    { type: 'text', x: 387, y: 259, style: { text: '2015-Nov-02', fontSize: 28, fontFamily: FONT, fill: '#000', verticalAlign: 'middle' } },
    { type: 'text', x: 386, y: 300, style: { text: 'χ', fontSize: 29, fontStyle: 'italic', fontFamily: FONT, fill: '#000', verticalAlign: 'middle' } },
    { type: 'text', x: 407, y: 287, style: { text: '2', fontSize: 20, fontFamily: FONT, fill: '#000', verticalAlign: 'middle' } },
    { type: 'text', x: 404, y: 307, style: { text: 'r', fontSize: 20, fontStyle: 'italic', fontFamily: FONT, fill: '#000', verticalAlign: 'middle' } },
    { type: 'text', x: 426, y: 297, style: { text: '= 1.096', fontSize: 28, fontFamily: FONT, fill: '#000', verticalAlign: 'middle' } },

    { type: 'text', x: 387, y: 541, style: { text: 'GMOS/R150', fontSize: 28, fontFamily: FONT, fill: '#000', verticalAlign: 'middle' } },
    { type: 'text', x: 387, y: 576, style: { text: '2012-Nov-12', fontSize: 28, fontFamily: FONT, fill: '#000', verticalAlign: 'middle' } },
    { type: 'text', x: 386, y: 616, style: { text: 'χ', fontSize: 29, fontStyle: 'italic', fontFamily: FONT, fill: '#000', verticalAlign: 'middle' } },
    { type: 'text', x: 407, y: 603, style: { text: '2', fontSize: 20, fontFamily: FONT, fill: '#000', verticalAlign: 'middle' } },
    { type: 'text', x: 404, y: 623, style: { text: 'r', fontSize: 20, fontStyle: 'italic', fontFamily: FONT, fill: '#000', verticalAlign: 'middle' } },
    { type: 'text', x: 426, y: 613, style: { text: '= 1.365', fontSize: 28, fontFamily: FONT, fill: '#000', verticalAlign: 'middle' } }
  ]
});
</script></body></html>
